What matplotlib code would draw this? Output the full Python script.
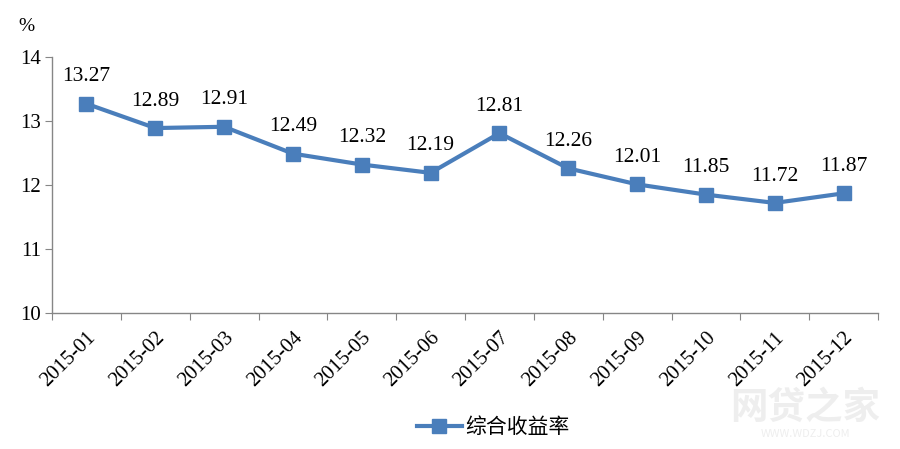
import matplotlib
matplotlib.use("Agg")
import matplotlib.pyplot as plt
import numpy as np

# 数据
months = ['2015-01', '2015-02', '2015-03', '2015-04', '2015-05', '2015-06',
          '2015-07', '2015-08', '2015-09', '2015-10', '2015-11', '2015-12']
rates = [13.27, 12.89, 12.91, 12.49, 12.32, 12.19, 12.81, 12.26, 12.01, 11.85, 11.72, 11.87]
series_name = '综合收益率'

serif = ['Liberation Serif', 'DejaVu Serif']
cjk = ['Noto Sans CJK SC', 'DejaVu Sans']
line_color = '#4a7ebb'
axis_color = '#868686'

fig = plt.figure(figsize=(9, 4.49), dpi=100)
ax = fig.add_axes([0.0578, 0.3029, 0.9178, 0.5701])

x = np.arange(len(months))
ax.plot(x, rates, color=line_color, linewidth=3, marker='s', markersize=10,
        markerfacecolor=line_color, markeredgecolor=line_color, label=series_name)

# etiquetas de valores
for xi, v in zip(x, rates):
    ax.annotate(f"{v:.2f}", xy=(xi, v), xytext=(0, 12.5), textcoords='offset points',
                ha='center', va='bottom', fontsize=15.5, family=serif)

ax.set_xlim(-0.5, len(months) - 0.5)
ax.set_ylim(10, 14)
ax.set_yticks([10, 11, 12, 13, 14])
ax.set_xticks(np.arange(-0.5, len(months), 1), minor=False)
ax.set_xticklabels([])
ax.set_xticks(x, minor=True)
ax.set_xticklabels(months, minor=True, rotation=45, ha='right', va='top',
                   rotation_mode='anchor', fontsize=15, family=serif)
ax.tick_params(axis='x', which='minor', length=0, pad=11)
ax.tick_params(axis='x', which='major', length=5, color=axis_color, direction='out')
ax.tick_params(axis='y', length=5, color=axis_color, direction='out', labelsize=15, pad=3)
for lab in ax.get_yticklabels():
    lab.set_family(serif)

for side in ['top', 'right']:
    ax.spines[side].set_visible(False)
for side in ['left', 'bottom']:
    ax.spines[side].set_color(axis_color)
    ax.spines[side].set_linewidth(1)

fig.text(0.02, 0.942, '%', fontsize=14, family=serif, ha='left', va='center')

leg = fig.legend(loc='center', bbox_to_anchor=(0.548, 0.049), frameon=False,
                 prop={'family': cjk, 'size': 15}, handlelength=2.2, handletextpad=0.15)

# marca de agua
fig.text(0.895, 0.093, '网贷之家', fontsize=27, family=cjk, color='#eeeeee',
         ha='center', va='center', fontweight='bold')
fig.text(0.895, 0.033, 'WWW.WDZJ.COM', fontsize=8, family=cjk, color='#eeeeee',
         ha='center', va='center')

fig.savefig('out.png', dpi=100, facecolor='white')
plt.close()
